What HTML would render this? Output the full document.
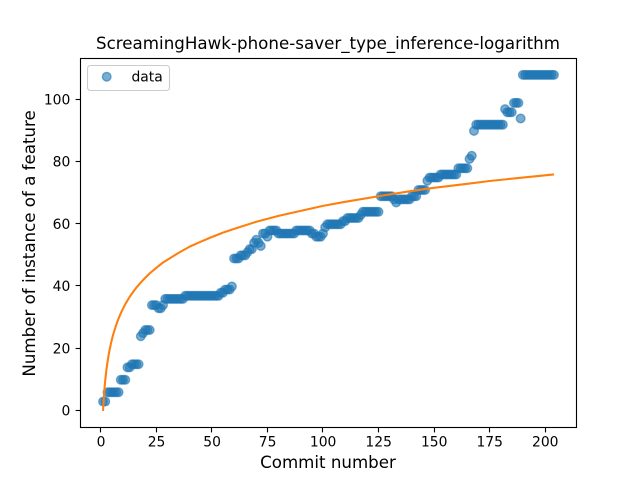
<!DOCTYPE html>
<html>
<head>
<meta charset="utf-8">
<style>
html,body{margin:0;padding:0;background:#fff;}
svg{display:block;}
text{font-family:"DejaVu Sans","Liberation Sans",sans-serif;fill:#000;}
</style>
</head>
<body>
<svg id="chart" xmlns="http://www.w3.org/2000/svg" width="640" height="480" viewBox="0 0 640 480">
<rect x="0" y="0" width="640" height="480" fill="#fff"/>
<g id="marks" transform="translate(0.5,0.5)"></g>
<g id="frame"></g>
<text x="328" y="49" font-size="16.67" text-anchor="middle" textLength="464">ScreamingHawk-phone-saver_type_inference-logarithm</text>
<text x="328" y="468" font-size="16.67" text-anchor="middle">Commit number</text>
<text x="0" y="0" font-size="16.67" text-anchor="middle" transform="translate(35,243.4) rotate(-90)">Number of instance of a feature</text>
<g>
<rect x="87.5" y="65.5" width="82" height="25" rx="3" ry="3" fill="#fff" fill-opacity="0.8" stroke="#ccc" stroke-width="1.1"/>
<circle cx="106.7" cy="76.7" r="4.3" fill="#1f77b4" fill-opacity="0.6" stroke="#1f77b4" stroke-opacity="0.6" stroke-width="1.39"/>
<text x="131.5" y="81.7" font-size="13.89">data</text>
</g>
</svg>
<script>
var dataValues = [
3,3,6,6,6,6,6,6,10,10,
10,14,14,15,15,15,15,24,25,26,
26,26,34,34,34,33,33,34,36,36,
36,36,36,36,36,36,36,37,37,37,
37,37,37,37,37,37,37,37,37,37,
37,37,37,38,38,39,39,39,40,49,
49,49,50,50,50,51,52,52,54,55,
54,53,57,57,56,58,58,58,58,57,
57,57,57,57,57,57,57,58,58,58,
58,58,58,58,57,57,56,56,56,57,
59,60,60,60,60,60,60,60,61,61,
62,62,62,62,62,62,63,64,64,64,
64,64,64,64,64,69,69,69,69,69,
69,68,67,68,68,68,68,68,68,69,
69,69,71,71,71,71,74,75,75,75,
75,75,76,76,76,76,76,76,76,76,
78,78,78,78,78,81,82,90,92,92,
92,92,92,92,92,92,92,92,92,92,
92,97,96,96,96,99,99,99,94,108,
108,108,108,108,108,108,108,108,108,108,
108,108,108,108
];
var curveCommits = [1,1.1,1.25,1.5,1.75,2,2.5,3,3.5,4,4.5,5,5.5,6,7,8,9,10,11,12,13,14,15,16,18,20,22,25,28,30,35,40,45,50,55,60,70,80,90,100,110,125,140,150,165,175,190,204];
var curveValues = [0,1.4,3.2,5.8,8,9.9,13.1,15.7,17.9,19.8,21.5,23,24.4,25.6,27.8,29.7,31.4,32.9,34.3,35.5,36.7,37.7,38.7,39.6,41.3,42.8,44.2,46,47.7,48.6,50.8,52.8,54.4,55.9,57.3,58.5,60.8,62.7,64.3,65.9,67.2,69,70.7,71.7,73,73.9,75,76];
var xTickLabels = [0,25,50,75,100,125,150,175,200];
var yTickLabels = [0,20,40,60,80,100];

var NS = 'http://www.w3.org/2000/svg';
var plotLeft = 80, plotRight = 576, plotTop = 57.6, plotBottom = 427.2;
var xMin = -9.15, xMax = 214.15, yMin = -5.4, yMax = 113.4;
function xScale(v){ return plotLeft + (v - xMin) / (xMax - xMin) * (plotRight - plotLeft); }
function yScale(v){ return plotBottom - (v - yMin) / (yMax - yMin) * (plotBottom - plotTop); }
function make(tag, attrs){
  var el = document.createElementNS(NS, tag);
  for (var k in attrs) { el.setAttribute(k, attrs[k]); }
  return el;
}
var marks = document.getElementById('marks');
var frame = document.getElementById('frame');

dataValues.forEach(function(v, i){
  var c = make('circle', {cx: xScale(i + 1), cy: yScale(v), r: 4.3, fill: '#1f77b4', 'fill-opacity': 0.6, stroke: '#1f77b4', 'stroke-opacity': 0.6, 'stroke-width': 1.39});
  
  
  marks.appendChild(c);
});

var pts = curveCommits.map(function(c, i){ return xScale(c).toFixed(2) + ',' + yScale(curveValues[i]).toFixed(2); }).join(' ');
var curve = make('polyline', {points: pts, fill: 'none', stroke: '#ff7f0e', 'stroke-width': 2.08, 'stroke-linejoin': 'round'});


marks.appendChild(curve);

var border = make('rect', {x: 80.5, y: 58.5, width: 496, height: 369, fill: 'none', stroke: '#000', 'stroke-width': 1.11});


frame.appendChild(border);

xTickLabels.forEach(function(t){
  var x = Math.round(xScale(t)) + 0.5;
  var tick = make('line', {x1: x, x2: x, y1: 427.5, y2: 432.4, stroke: '#000', 'stroke-width': 1.11});
  
  
  frame.appendChild(tick);
  var label = make('text', {x: xScale(t) + 0.7, y: 446.5, 'font-size': 13.89, 'text-anchor': 'middle'});
  
  
  label.textContent = t;
  frame.appendChild(label);
});

yTickLabels.forEach(function(t){
  var y = Math.round(yScale(t) - 0.5) + 0.5;
  var tick = make('line', {x1: 75.6, x2: 80.5, y1: y, y2: y, stroke: '#000', 'stroke-width': 1.11});
  
  
  frame.appendChild(tick);
  var label = make('text', {x: 70.3, y: yScale(t) + 5.2, 'font-size': 13.89, 'text-anchor': 'end'});
  
  
  label.textContent = t;
  frame.appendChild(label);
});
</script>
</body>
</html>
